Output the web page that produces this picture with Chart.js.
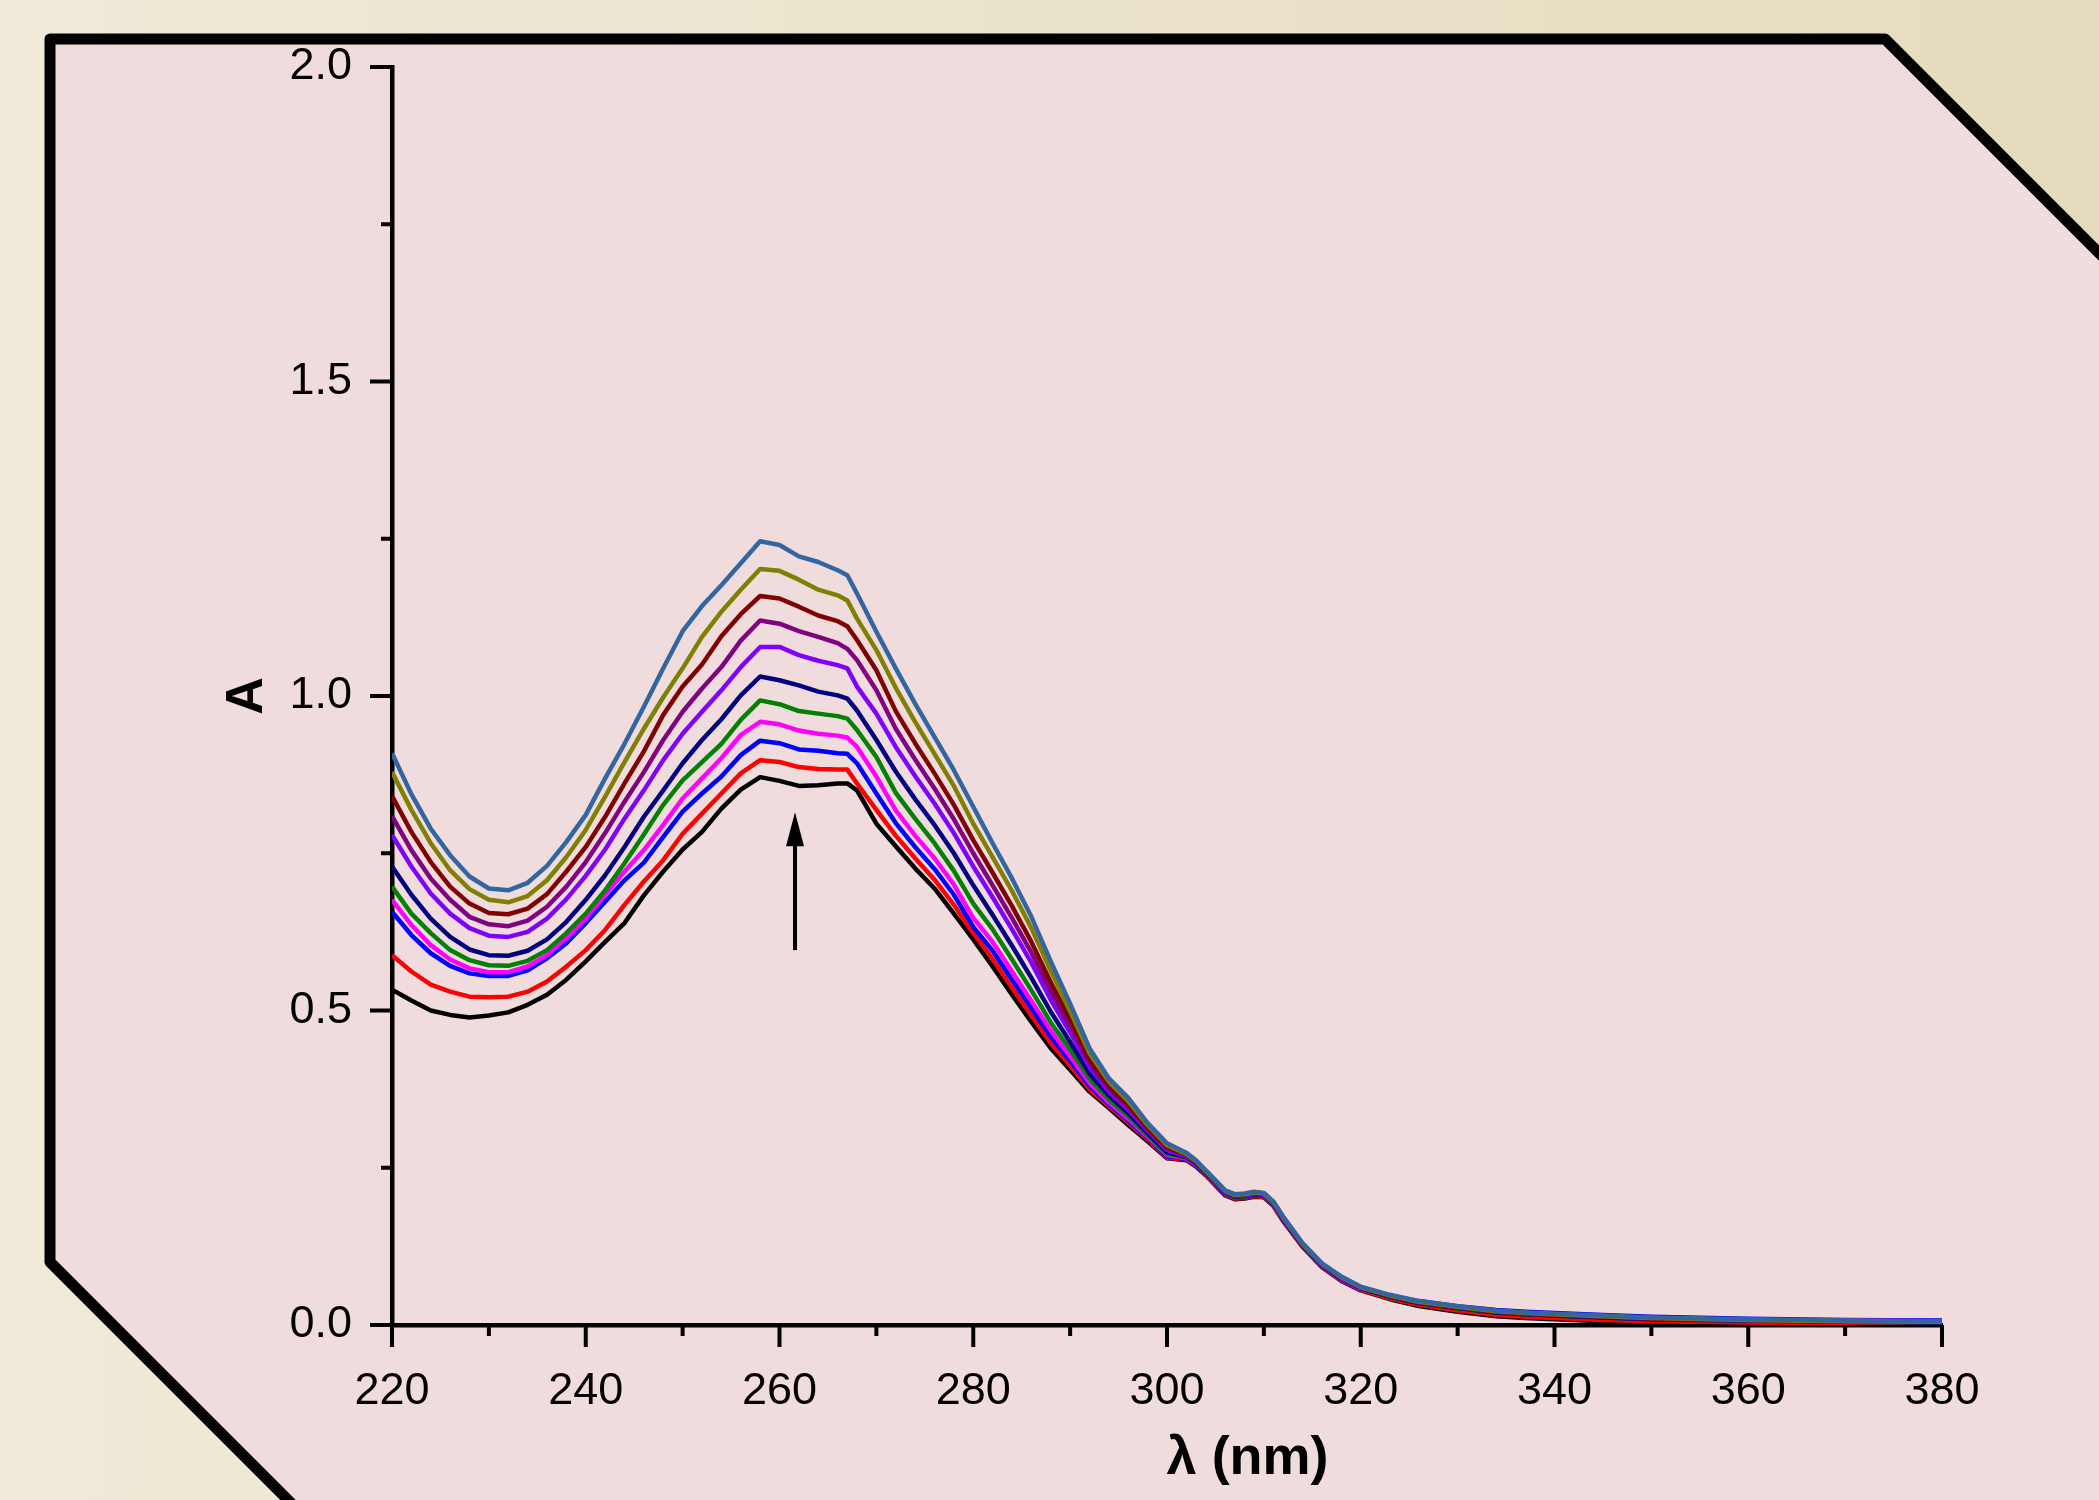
<!DOCTYPE html>
<html>
<head>
<meta charset="utf-8">
<script src="https://cdn.jsdelivr.net/npm/chart.js@4.4.1/dist/chart.umd.min.js"></script>
<style>
html,body{margin:0;padding:0;background:#EEE7D3;}
canvas{display:block;}
</style>
</head>
<body>
<canvas id="c" width="2099" height="1500"></canvas>
<script>
// ---- data ----
const wavelengths = [220,222,224,226,228,230,232,234,236,238,240,242,244,246,248,250,252,254,256,258,260,262,264,266,267,268,270,272,274,276,278,280,282,284,286,288,290,292,294,296,298,300,302,303,304,306,307,308,309,310,311,312,314,316,318,320,323,326,330,334,337,340,345,350,360,370,380];

const sBlack = [.533,.516,.500,.493,.489,.492,.497,.509,.525,.549,.578,.609,.639,.683,
  .721,.756,.784,.821,.851,.871,.865,.857,.858,.861,.861,.850,
  .797,.761,.726,.694,.654,.613,.570,.525,.482,.440,.406,.371,.345,.318,.292,.265,
  .262,.252,.238,.206,.200,.201,.204,.203,.189,.165,
  .124,.092,.070,.055,.041,.030,.021,.014,.011,.009,.006,.004,.003,.002,.002];
const sRed = [.588,.562,.541,.530,.522,.521,.522,.530,.546,.570,.596,.628,.668,.705,
  .739,.781,.813,.845,.877,.898,.895,.887,.884,.883,.883,.861,
  .819,.778,.742,.708,.668,.623,.582,.536,.492,.448,.412,.375,.348,.322,.295,.266,
  .263,.253,.239,.207,.201,.202,.205,.204,.190,.166,
  .125,.093,.071,.056,.042,.032,.023,.016,.013,.011,.008,.006,.004,.003,.002];
const sBlue = [.657,.620,.591,.571,.559,.555,.555,.564,.583,.607,.639,.673,.707,.735,
  .776,.816,.845,.872,.906,.929,.925,.915,.913,.909,.908,.893,
  .845,.798,.760,.725,.684,.633,.595,.549,.504,.458,.420,.380,.351,.325,.297,.268,
  .264,.254,.240,.208,.202,.203,.206,.205,.191,.167,
  .126,.094,.072,.057,.047,.038,.030,.024,.021,.019,.016,.013,.010,.008,.007];
const sMagenta = [.676,.636,.604,.581,.567,.561,.561,.570,.588,.615,.646,.684,.721,.755,
  .795,.837,.869,.901,.938,.959,.955,.945,.940,.937,.934,.919,
  .872,.818,.778,.742,.700,.647,.609,.562,.515,.468,.427,.385,.354,.328,.299,.270,
  .265,.255,.241,.209,.203,.204,.207,.205,.191,.167,
  .126,.094,.072,.057,.045,.036,.028,.022,.019,.017,.014,.011,.008,.007,.006];
const sGreen = [.697,.654,.623,.596,.580,.572,.571,.579,.596,.623,.654,.691,.734,.780,
  .827,.866,.895,.924,.962,.993,.987,.976,.972,.968,.964,.946,
  .903,.846,.805,.766,.722,.670,.629,.581,.532,.481,.438,.392,.359,.332,.301,.272,
  .266,.256,.241,.209,.203,.204,.207,.206,.192,.168,
  .127,.095,.073,.058,.044,.035,.026,.020,.017,.015,.012,.009,.007,.005,.004];
const sNavy = [.729,.684,.646,.617,.597,.588,.587,.595,.613,.641,.676,.715,.760,.808,
  .850,.893,.930,.963,1.001,1.031,1.025,1.017,1.007,1.001,.996,.977,
  .930,.880,.836,.795,.750,.699,.652,.603,.552,.498,.450,.400,.365,.337,.305,.275,
  .267,.257,.242,.210,.204,.205,.208,.206,.192,.168,
  .127,.095,.073,.058,.045,.035,.027,.020,.017,.015,.012,.009,.007,.005,.004];
const sViolet = [.779,.729,.686,.654,.631,.619,.617,.625,.646,.677,.714,.756,.805,.850,
  .898,.940,.975,1.009,1.046,1.078,1.078,1.065,1.056,1.049,1.044,1.015,
  .972,.919,.873,.829,.782,.729,.680,.629,.576,.517,.465,.410,.371,.342,.309,.278,
  .268,.258,.243,.211,.205,.206,.209,.207,.193,.169,
  .128,.096,.074,.059,.046,.036,.028,.022,.019,.017,.014,.011,.008,.006,.005];
const sPurple = [.809,.755,.710,.676,.649,.637,.634,.643,.665,.697,.736,.782,.832,.879,
  .930,.975,1.012,1.046,1.088,1.120,1.115,1.103,1.094,1.084,1.075,1.057,
  1.009,.948,.899,.853,.804,.750,.699,.647,.592,.531,.475,.417,.376,.346,.311,.281,
  .270,.259,.244,.212,.206,.207,.210,.208,.194,.170,
  .128,.096,.075,.059,.046,.036,.028,.021,.018,.016,.013,.010,.008,.006,.005];
const sMaroon = [.841,.784,.736,.697,.670,.655,.653,.662,.685,.721,.760,.808,.861,.912,
  .970,1.015,1.050,1.095,1.130,1.159,1.155,1.142,1.128,1.119,1.111,1.089,
  1.041,.976,.925,.877,.827,.771,.719,.666,.609,.545,.486,.423,.381,.350,.314,.283,
  .271,.260,.245,.213,.207,.208,.211,.209,.195,.171,
  .129,.097,.076,.060,.046,.036,.028,.021,.018,.016,.013,.010,.008,.006,.005];
const sOlive = [.879,.819,.766,.723,.693,.676,.672,.682,.707,.744,.787,.840,.895,.948,
  .998,1.044,1.094,1.134,1.169,1.202,1.199,1.185,1.169,1.160,1.152,1.123,
  1.073,1.013,.959,.908,.857,.797,.744,.690,.631,.563,.499,.432,.387,.356,.318,.286,
  .272,.261,.245,.213,.207,.208,.211,.209,.195,.171,
  .129,.097,.076,.060,.047,.037,.029,.022,.019,.017,.014,.011,.008,.006,.005];
const sSteel = [.909,.844,.789,.747,.713,.694,.691,.703,.730,.768,.811,.869,.924,.983,
  1.044,1.103,1.143,1.176,1.211,1.246,1.240,1.222,1.213,1.200,1.192,1.163,
  1.102,1.044,.988,.935,.882,.824,.766,.710,.649,.578,.511,.440,.392,.361,.321,.289,
  .274,.262,.246,.214,.208,.209,.212,.210,.196,.172,
  .130,.098,.077,.061,.048,.038,.030,.023,.020,.018,.015,.012,.009,.007,.006];

const xTickValues = [220,240,260,280,300,320,340,360,380];
const xMinorTickValues = [230,250,270,290,310,330,350,370];
const yTickValues = [0,0.5,1.0,1.5,2.0];
const yMinorTickValues = [0.25,0.75,1.25,1.75];
const arrowX = 261.6;
const arrowFrom = 0.596;
const arrowTo = 0.815;

// ---- styling ----
const seriesList = [
  {data: sBlack,   color: '#000000'},
  {data: sRed,     color: '#FF0000'},
  {data: sBlue,    color: '#0000FF'},
  {data: sMagenta, color: '#FF00FF'},
  {data: sGreen,   color: '#008000'},
  {data: sNavy,    color: '#000080'},
  {data: sViolet,  color: '#8000FF'},
  {data: sPurple,  color: '#800080'},
  {data: sMaroon,  color: '#800000'},
  {data: sOlive,   color: '#808000'},
  {data: sSteel,   color: '#3366A0'}
];
const FONT = '"Liberation Sans", Arial, sans-serif';

const datasets = seriesList.map((s, i) => ({
  data: wavelengths.map((w, k) => ({x: w, y: s.data[k]})),
  borderColor: s.color,
  borderWidth: 4.5,
  pointRadius: 0,
  tension: 0,
  fill: false,
  borderJoinStyle: 'round',
  order: seriesList.length - 1 - i
}));

const decorPlugin = {
  id: 'decor',
  beforeDraw(chart) {
    const ctx = chart.ctx, W = chart.width, H = chart.height;
    ctx.save();
    const g = ctx.createLinearGradient(0, 0, W, 0);
    g.addColorStop(0, '#F0EAD8');
    g.addColorStop(1, '#E4DCBE');
    ctx.fillStyle = g;
    ctx.fillRect(0, 0, W, H);
    ctx.beginPath();
    ctx.moveTo(50, 39); ctx.lineTo(1885, 39); ctx.lineTo(2140, 294);
    ctx.lineTo(2140, 1540); ctx.lineTo(328, 1540); ctx.lineTo(50, 1262);
    ctx.closePath();
    ctx.fillStyle = '#F0DCDC';
    ctx.fill();
    ctx.beginPath();
    ctx.moveTo(2140, 294); ctx.lineTo(1885, 39); ctx.lineTo(50, 39);
    ctx.lineTo(50, 1262); ctx.lineTo(328, 1540);
    ctx.lineWidth = 11;
    ctx.lineJoin = 'round';
    ctx.strokeStyle = '#000';
    ctx.stroke();
    ctx.restore();
  },
  afterDraw(chart) {
    const ctx = chart.ctx, xs = chart.scales.x, ys = chart.scales.y, a = chart.chartArea;
    ctx.save();
    ctx.strokeStyle = '#000';
    ctx.lineWidth = 4;
    ctx.beginPath();
    for (const v of yTickValues) { const p = ys.getPixelForValue(v); ctx.moveTo(a.left, p); ctx.lineTo(a.left - 22, p); }
    for (const v of yMinorTickValues) { const p = ys.getPixelForValue(v); ctx.moveTo(a.left, p); ctx.lineTo(a.left - 11, p); }
    for (const v of xTickValues) { const p = xs.getPixelForValue(v); ctx.moveTo(p, a.bottom); ctx.lineTo(p, a.bottom + 22); }
    for (const v of xMinorTickValues) { const p = xs.getPixelForValue(v); ctx.moveTo(p, a.bottom); ctx.lineTo(p, a.bottom + 11); }
    ctx.stroke();
    // arrow
    const ax = xs.getPixelForValue(arrowX), y1 = ys.getPixelForValue(arrowFrom), y2 = ys.getPixelForValue(arrowTo);
    ctx.lineWidth = 4;
    ctx.beginPath(); ctx.moveTo(ax, y1); ctx.lineTo(ax, y2 + 28); ctx.stroke();
    ctx.beginPath(); ctx.moveTo(ax, y2); ctx.lineTo(ax - 9, y2 + 34); ctx.lineTo(ax + 9, y2 + 34); ctx.closePath();
    ctx.fillStyle = '#000'; ctx.fill();
    // x-axis title
    ctx.font = 'bold 54px ' + FONT;
    ctx.textAlign = 'center';
    ctx.textBaseline = 'middle';
    ctx.fillText('λ (nm)', a.left + 0.552 * (a.right - a.left), a.bottom + 134);
    ctx.restore();
  }
};

Chart.defaults.color = '#000';
new Chart(document.getElementById('c'), {
  type: 'line',
  data: {datasets},
  plugins: [decorPlugin],
  options: {
    responsive: false,
    devicePixelRatio: 1,
    animation: false,
    layout: {padding: {left: 0, top: 65, right: 157, bottom: 0}},
    plugins: {legend: {display: false}, tooltip: {enabled: false}},
    scales: {
      x: {
        type: 'linear', min: 220, max: 380,
        afterBuildTicks: s => { s.ticks = xTickValues.map(v => ({value: v})); },
        afterFit: s => { s.height = 175; },
        grid: {display: true, drawOnChartArea: false, drawTicks: false},
        border: {display: true, color: '#000', width: 4.5},
        ticks: {font: {family: FONT, size: 45}, color: '#000', padding: 40, maxRotation: 0,
          callback: v => String(v)}
      },
      y: {
        type: 'linear', min: 0, max: 2,
        afterBuildTicks: s => { s.ticks = yTickValues.map(v => ({value: v})); },
        afterFit: s => { s.width = 392; },
        grid: {display: true, drawOnChartArea: false, drawTicks: false},
        border: {display: true, color: '#000', width: 4.5},
        ticks: {font: {family: FONT, size: 45}, color: '#000', padding: 40,
          callback: v => Number(v).toFixed(1)},
        title: {display: true, text: 'A', font: {family: FONT, size: 52, weight: 'bold'},
          color: '#000', padding: {top: 216, bottom: 0}}
      }
    }
  }
});
</script>
</body>
</html>
